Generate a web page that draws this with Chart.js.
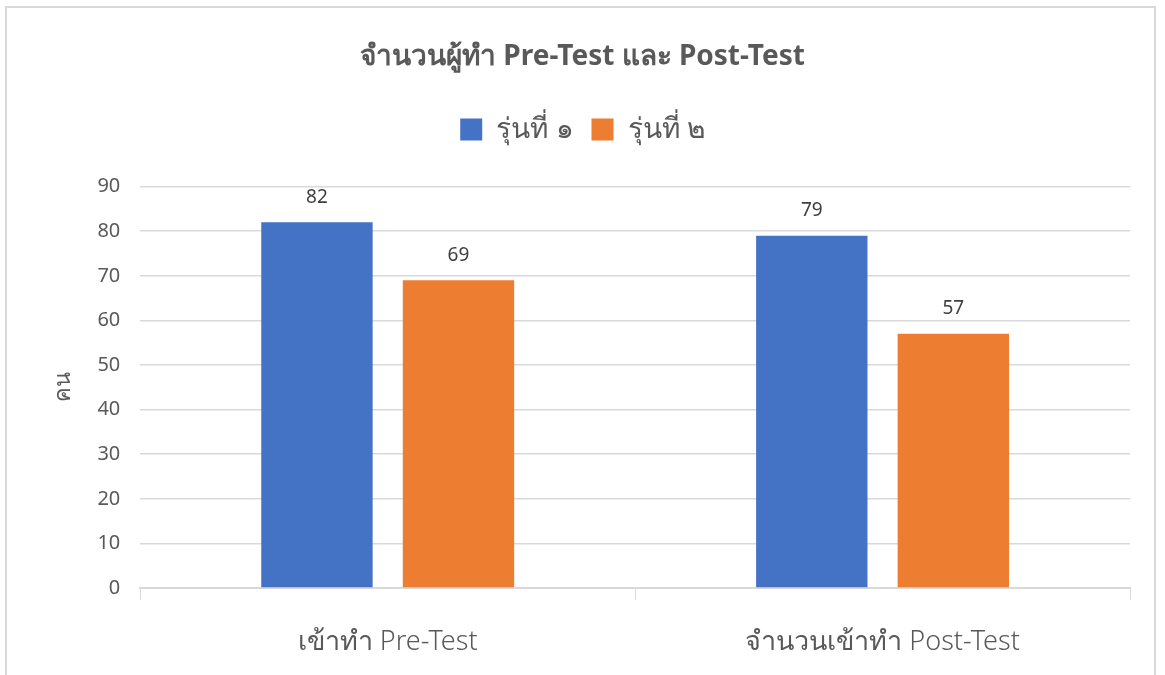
<!DOCTYPE html>
<html>
<head>
<meta charset="utf-8">
<script src="https://cdn.jsdelivr.net/npm/chart.js@4.4.1/dist/chart.umd.min.js"></script>
<style>
  html, body { margin: 0; padding: 0; background: #fff; }
  #frame { position: absolute; left: 5px; top: 6px; width: 1151px; height: 680px; border: 2px solid #d9d9d9; box-sizing: border-box; }
  #wrap { position: absolute; left: 0; top: 0; width: 1165px; height: 675px; }
</style>
</head>
<body>
<div id="frame"></div>
<div id="wrap"><canvas id="chart"></canvas></div>
<script>
// data
const categories = ['เข้าทำ Pre-Test', 'จำนวนเข้าทำ Post-Test'];
const gen1 = [82, 79];
const gen2 = [69, 57];
const seriesNames = ['รุ่นที่ ๑', 'รุ่นที่ ๒'];

const FONT = "'Noto Sans', 'Open Sans', sans-serif";
const GRID = '#d9d9d9';
const TEXT = '#595959';

// draw values above each bar
const valueLabels = {
  id: 'valueLabels',
  afterDatasetsDraw(chart) {
    const ctx = chart.ctx;
    ctx.save();
    ctx.font = '19px ' + FONT;
    ctx.fillStyle = '#404040';
    ctx.textAlign = 'center';
    ctx.textBaseline = 'middle';
    chart.data.datasets.forEach((ds, i) => {
      chart.getDatasetMeta(i).data.forEach((bar, j) => {
        ctx.fillText(ds.data[j], bar.x, bar.y - 25);
      });
    });
    ctx.restore();
  }
};

// extra room under the legend
const legendGap = {
  id: 'legendGap',
  beforeInit(chart) {
    const origFit = chart.legend.fit;
    chart.legend.fit = function () {
      origFit.bind(chart.legend)();
      this.height += 33;
    };
  }
};

new Chart(document.getElementById('chart'), {
  type: 'bar',
  data: {
    labels: categories,
    datasets: [
      { label: seriesNames[0], data: gen1, backgroundColor: '#4472c4', categoryPercentage: 0.572, barPercentage: 0.787 },
      { label: seriesNames[1], data: gen2, backgroundColor: '#ed7d31', categoryPercentage: 0.572, barPercentage: 0.787 }
    ]
  },
  options: {
    responsive: true,
    maintainAspectRatio: false,
    animation: false,
    layout: { padding: { top: 0, right: 0, bottom: 0, left: 0 } },
    plugins: {
      title: {
        display: true,
        text: 'จำนวนผู้ทำ Pre-Test และ Post-Test',
        color: TEXT,
        font: { family: FONT, size: 28, weight: 'bold' },
        padding: { top: 40, bottom: 24 }
      },
      legend: {
        display: true,
        position: 'top',
        labels: {
          color: TEXT,
          font: { family: FONT, size: 28 },
          boxWidth: 22,
          boxHeight: 22,
          padding: 18
        }
      },
      tooltip: { enabled: false }
    },
    scales: {
      x: {
        grid: { display: true, drawOnChartArea: false, drawTicks: true, tickLength: 12, color: GRID, offset: true },
        border: { display: true, color: GRID, width: 2 },
        ticks: { color: TEXT, font: { family: FONT, size: 27, weight: '300' }, padding: 26 },
        afterFit(scale) { scale.height = 87; }
      },
      y: {
        min: 0,
        max: 90,
        ticks: { stepSize: 10, color: TEXT, font: { family: FONT, size: 20 }, padding: 20 },
        grid: { color: GRID, drawTicks: false, lineWidth: 1.5 },
        border: { display: false },
        title: { display: true, text: 'คน', color: TEXT, font: { family: FONT, size: 22 }, padding: { top: 51, bottom: 0 } }
      },
      // empty right-hand axis: keeps a margin on the right so title and legend stay centred
      yPad: {
        position: 'right',
        display: true,
        grid: { display: false },
        border: { display: false },
        ticks: { display: false },
        afterFit(scale) { scale.width = 35; }
      }
    }
  },
  plugins: [valueLabels, legendGap]
});
</script>
</body>
</html>
